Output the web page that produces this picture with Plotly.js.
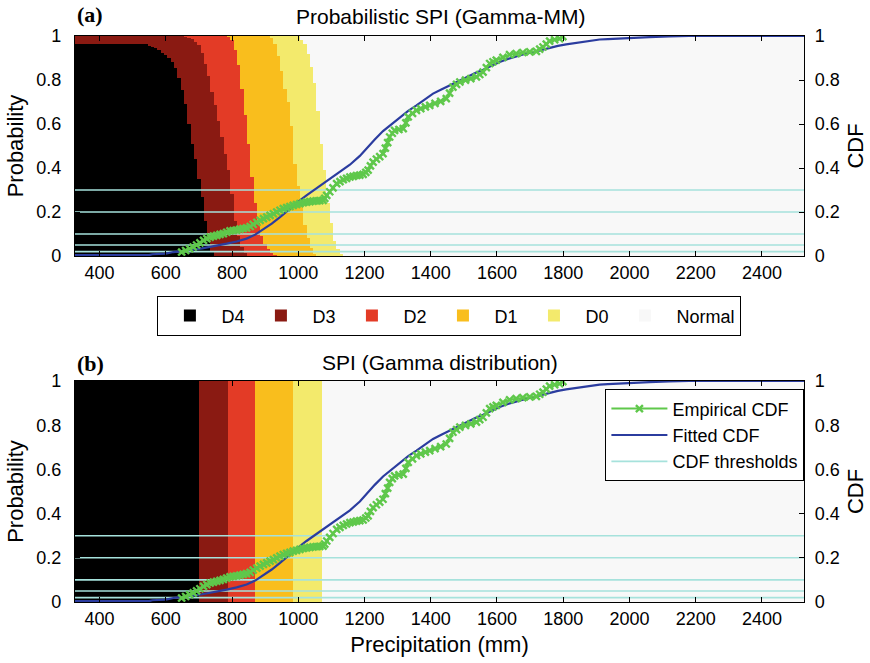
<!DOCTYPE html>
<html>
<head>
<meta charset="utf-8">
<script src="https://cdn.plot.ly/plotly-3.0.1.min.js"></script>
<style>html,body{margin:0;padding:0;background:#fff;}#chart{width:870px;height:663px;}</style>
</head>
<body>
<div id="chart"></div>
<script>
// ---------------- DATA ----------------
const precipRange = [326, 2527];
const precipTicks = [400, 600, 800, 1000, 1200, 1400, 1600, 1800, 2000, 2200, 2400];
const probTicks = [0, 0.2, 0.4, 0.6, 0.8, 1];
const probTickText = ['0', '0.2', '0.4', '0.6', '0.8', '1'];
const categories = ['D4', 'D3', 'D2', 'D1', 'D0', 'Normal'];
const cdfThresholds = [0.02, 0.05, 0.10, 0.20, 0.30];

// Panel (a): precipitation bins (mm) and cumulative class probabilities (stacked tops)
const precipBins = [330,340,350,360,370,380,390,400,410,420,430,440,450,460,470,480,490,500,510,520,
  530,540,550,560,570,580,590,600,610,620,630,640,650,660,670,680,690,700,710,720,
  730,740,750,760,770,780,790,800,810,820,830,840,850,860,870,880,890,900,910,920,
  930,940,950,960,970,980,990,1000,1010,1020,1030,1040,1050,1060,1070,1080,1090,1100,1110,1120,
  1130,1140];
const cumD4 = [0.965,0.965,0.965,0.965,0.965,0.965,0.965,0.965,0.965,0.965,0.965,0.965,0.965,0.965,0.965,0.965,0.965,0.965,0.965,0.965,
  0.965,0.965,0.955,0.95,0.945,0.935,0.925,0.915,0.9,0.88,0.855,0.81,0.755,0.69,0.6,0.51,0.44,0.35,0.27,0.16,
  0.07,0.02,0,0,0,0,0,0,0,0,0,0,0,0,0,0,0,0,0,0,
  0,0,0,0,0,0,0,0,0,0,0,0,0,0,0,0,0,0,0,0,
  0,0];
const cumD3 = [1,1,1,1,1,1,1,1,1,1,1,1,1,1,1,1,1,1,1,1,
  1,1,1,1,1,1,1,1,1,1,1,1,1,0.995,0.99,0.985,0.975,0.96,0.925,0.875,
  0.82,0.745,0.685,0.615,0.54,0.465,0.39,0.28,0.16,0.09,0.04,0.015,0,0,0,0,0,0,0,0,
  0,0,0,0,0,0,0,0,0,0,0,0,0,0,0,0,0,0,0,0,
  0,0];
const cumD2 = [1,1,1,1,1,1,1,1,1,1,1,1,1,1,1,1,1,1,1,1,
  1,1,1,1,1,1,1,1,1,1,1,1,1,1,1,1,1,1,1,1,
  1,1,1,1,1,1,0.995,0.98,0.935,0.87,0.76,0.64,0.51,0.36,0.24,0.15,0.09,0.055,0.03,0.015,
  0.005,0,0,0,0,0,0,0,0,0,0,0,0,0,0,0,0,0,0,0,
  0,0];
const cumD1 = [1,1,1,1,1,1,1,1,1,1,1,1,1,1,1,1,1,1,1,1,
  1,1,1,1,1,1,1,1,1,1,1,1,1,1,1,1,1,1,1,1,
  1,1,1,1,1,1,1,1,1,1,1,1,1,1,1,1,1,1,1,0.99,
  0.965,0.91,0.84,0.76,0.7,0.59,0.42,0.32,0.23,0.14,0.08,0.035,0.01,0,0,0,0,0,0,0,
  0,0];
const cumD0 = [1,1,1,1,1,1,1,1,1,1,1,1,1,1,1,1,1,1,1,1,
  1,1,1,1,1,1,1,1,1,1,1,1,1,1,1,1,1,1,1,1,
  1,1,1,1,1,1,1,1,1,1,1,1,1,1,1,1,1,1,1,1,
  1,1,1,1,1,1,1,1,0.98,0.965,0.92,0.86,0.785,0.66,0.51,0.39,0.24,0.15,0.07,0.03,
  0.01,0];

// Panel (b): deterministic SPI class edges (mm): D4 | D3 | D2 | D1 | D0 | Normal
const spiClassEdges = [326, 700, 787, 868, 985, 1073, 2527];

// Empirical CDF (sample points)
const empPrecip = [648,660,672,683,693,703,714,724,734,744,754,764,774,784,794,804,814,824,834,844,
  855,864,875,885,895,905,915,925,935,945,955,965,975,985,995,1005,1015,1025,1035,1045,
  1055,1065,1075,1080,1086,1095,1105,1116,1126,1136,1146,1156,1166,1176,1186,1196,1204,1211,1218,1226,
  1236,1246,1256,1263,1270,1276,1284,1291,1304,1317,1325,1332,1345,1357,1370,1384,1397,1413,1430,1447,
  1457,1467,1478,1488,1505,1521,1538,1548,1558,1568,1578,1588,1598,1618,1638,1658,1678,1699,1719,1729,
  1739,1749,1759,1774,1789,1799];
const empCdf = [0.018,0.025,0.033,0.041,0.05,0.06,0.071,0.079,0.086,0.09,0.094,0.098,0.102,0.108,0.114,0.116,0.118,0.122,0.125,0.128,
  0.134,0.144,0.153,0.162,0.17,0.177,0.185,0.192,0.2,0.208,0.215,0.22,0.225,0.23,0.234,0.238,0.242,0.245,0.247,0.249,
  0.251,0.252,0.253,0.262,0.276,0.292,0.31,0.329,0.338,0.347,0.353,0.359,0.362,0.366,0.368,0.371,0.38,0.39,0.41,0.427,
  0.44,0.452,0.465,0.49,0.515,0.541,0.558,0.571,0.575,0.579,0.605,0.632,0.648,0.662,0.67,0.678,0.685,0.694,0.703,0.715,
  0.74,0.768,0.78,0.791,0.799,0.806,0.814,0.825,0.836,0.856,0.875,0.883,0.89,0.903,0.915,0.92,0.925,0.928,0.93,0.94,
  0.95,0.963,0.977,0.983,0.988,0.997];

// Fitted (gamma) CDF
const fitPrecip = [326,400,550,560,600,623,650,683,710,734,760,784,814,844,870,894,920,945,965,985,
  1005,1025,1050,1075,1100,1126,1156,1186,1206,1231,1256,1282,1307,1332,1357,1382,1407,1432,1457,1482,
  1508,1533,1558,1583,1608,1633,1658,1684,1709,1734,1759,1784,1809,1834,1859,1885,1910,1935,1960,1985,
  2010,2060,2120,2180,2527];
const fitCdf = [0.004,0.004,0.004,0.008,0.011,0.018,0.022,0.029,0.035,0.041,0.048,0.056,0.066,0.079,0.097,0.12,0.147,0.177,0.203,0.23,
  0.253,0.276,0.302,0.329,0.356,0.382,0.415,0.455,0.49,0.53,0.568,0.6,0.632,0.66,0.685,0.712,0.738,0.757,0.776,0.796,
  0.814,0.831,0.847,0.865,0.882,0.896,0.908,0.918,0.927,0.937,0.947,0.955,0.962,0.968,0.973,0.979,0.984,0.986,0.988,0.991,
  0.993,0.995,0.998,1.0,1.0];

// ---------------- STYLE ----------------
const catColors = {D4:'#000000', D3:'#8a1a12', D2:'#e33b26', D1:'#f9be1d', D0:'#f3ea6c', Normal:'#f1f1f1'};
const bgNormal = '#f8f8f8';
const green = '#5fc84b', blue = '#2b3c9f', cyan = '#a6e2dc';
const FONT = 'Liberation Sans, Arial, Helvetica, sans-serif';

const traces = [];
const binW = precipBins[1] - precipBins[0];
const cumByCat = {D4:cumD4, D3:cumD3, D2:cumD2, D1:cumD1, D0:cumD0};

// Panel (a) Normal (full probability) then classes drawn on top in overlay
traces.push({type:'bar', name:'Normal', x:[(precipRange[0]+precipRange[1])/2], y:[1],
  width:[precipRange[1]-precipRange[0]], xaxis:'x', yaxis:'y',
  marker:{color:bgNormal, line:{width:0}}, legend:'legend', legendrank:6, showlegend:false, hoverinfo:'skip'});
['D0','D1','D2','D3','D4'].forEach((c) => {
  traces.push({type:'bar', name:c, x:precipBins, y:cumByCat[c], width:precipBins.map(() => binW),
    xaxis:'x', yaxis:'y', marker:{color:catColors[c], line:{width:0}},
    legend:'legend', legendrank:categories.indexOf(c) + 1, showlegend:true, hoverinfo:'skip'});
});

// Panel (b) classes (Normal class provides the legend swatch)
categories.forEach((c, k) => {
  const a = spiClassEdges[k], b = spiClassEdges[k + 1];
  traces.push({type:'bar', name:c, x:[(a + b) / 2], y:[1], width:[b - a],
    xaxis:'x2', yaxis:'y3', marker:{color:c === 'Normal' ? bgNormal : catColors[c], line:{width:0}},
    showlegend:c === 'Normal', legend:'legend', legendrank:6, hoverinfo:'skip'});
});

// Threshold lines and CDFs for both panels
function thresholdXY() {
  const xs = [], ys = [];
  cdfThresholds.forEach(t => { xs.push(precipRange[0], precipRange[1], null); ys.push(t, t, null); });
  return {xs, ys};
}
[['x','y2', false], ['x2','y4', true]].forEach(([xa, ya, leg]) => {
  const th = thresholdXY();
  traces.push({type:'scatter', mode:'lines', name:'CDF thresholds', x:th.xs, y:th.ys, xaxis:xa, yaxis:ya,
    line:{color:cyan, width:1.6}, showlegend:leg, legend:'legend2', legendrank:3, hoverinfo:'skip'});
  traces.push({type:'scatter', mode:'lines', name:'Fitted CDF', x:fitPrecip, y:fitCdf, xaxis:xa, yaxis:ya,
    line:{color:blue, width:2.2}, showlegend:leg, legend:'legend2', legendrank:2, hoverinfo:'skip'});
  traces.push({type:'scatter', mode:'lines+markers', name:'Empirical CDF', x:empPrecip, y:empCdf, xaxis:xa, yaxis:ya,
    line:{color:green, width:2}, marker:{symbol:'x-thin', size:7, color:green, line:{color:green, width:2.4}},
    showlegend:leg, legend:'legend2', legendrank:1, hoverinfo:'skip'});
});

// ---------------- LAYOUT ----------------
const plotTop = 36, plotBot = 602, H = 663;
const span = plotBot - plotTop;
const fy = (px) => (plotBot - px) / span;

const xCommon = {range:precipRange, tickvals:precipTicks, ticktext:precipTicks.map(String),
  ticks:'inside', ticklen:5, tickwidth:1, tickcolor:'#000', showline:true, linecolor:'#000', linewidth:1.2,
  mirror:'ticks', showgrid:false, zeroline:false, tickfont:{size:18, family:FONT}, ticklabelstandoff:0};
const yLeft = {range:[0,1], tickvals:probTicks, ticktext:probTickText, ticks:'inside', ticklen:5,
  tickcolor:'#000', showline:true, linecolor:'#000', linewidth:1.2, mirror:true, showgrid:false, zeroline:false,
  tickfont:{size:18, family:FONT}, ticklabelstandoff:9,
  title:{text:'Probability', font:{size:22, family:FONT}, standoff:6}};
const yRight = {range:[0,1], tickvals:probTicks, ticktext:probTickText, ticks:'inside', ticklen:5,
  tickcolor:'#000', side:'right', showline:true, linecolor:'#000', linewidth:1.2, showgrid:false, zeroline:false,
  tickfont:{size:18, family:FONT}, ticklabelstandoff:6,
  title:{text:'CDF', font:{size:22, family:FONT}, standoff:8}};

const layout = {
  width:870, height:663,
  margin:{l:75, r:66, t:plotTop, b:H - plotBot, pad:0},
  paper_bgcolor:'#ffffff', plot_bgcolor:bgNormal,
  font:{family:FONT, size:18, color:'#000'},
  barmode:'overlay', bargap:0,
  hovermode:false,
  xaxis: Object.assign({}, xCommon, {anchor:'y', domain:[0,1]}),
  yaxis: Object.assign({}, yLeft, {anchor:'x', domain:[fy(256), 1]}),
  yaxis2: Object.assign({}, yRight, {anchor:'x', overlaying:'y'}),
  xaxis2: Object.assign({}, xCommon, {anchor:'y3', domain:[0,1],
    title:{text:'Precipitation (mm)', font:{size:22, family:FONT}, standoff:8}}),
  yaxis3: Object.assign({}, yLeft, {anchor:'x2', domain:[0, fy(381)]}),
  yaxis4: Object.assign({}, yRight, {anchor:'x2', overlaying:'y3'}),
  legend:{orientation:'h', x:(157 - 75) / 729, xanchor:'left', y:fy(296), yanchor:'top',
    bgcolor:'#ffffff', bordercolor:'#000', borderwidth:1.4, font:{size:18, family:FONT},
    itemwidth:53, traceorder:'normal', itemclick:false},
  legend2:{x:1, xanchor:'right', y:fy(389), yanchor:'top', bgcolor:'#ffffff', bordercolor:'#000', borderwidth:1.4,
    font:{size:18, family:FONT}, itemwidth:56, traceorder:'normal', tracegroupgap:0},
  annotations:[
    {text:'Probabilistic SPI (Gamma-MM)', xref:'paper', yref:'paper', x:(440 - 75) / 729, y:fy(17),
      xanchor:'center', yanchor:'middle', showarrow:false, font:{size:21, family:FONT}},
    {text:'SPI (Gamma distribution)', xref:'paper', yref:'paper', x:(440 - 75) / 729, y:fy(362),
      xanchor:'center', yanchor:'middle', showarrow:false, font:{size:21, family:FONT}},
    {text:'<b>(a)</b>', xref:'paper', yref:'paper', x:0, y:fy(15), xanchor:'left', yanchor:'middle',
      showarrow:false, font:{size:22, family:'Liberation Serif, Times New Roman, serif'}},
    {text:'<b>(b)</b>', xref:'paper', yref:'paper', x:0, y:fy(363), xanchor:'left', yanchor:'middle',
      showarrow:false, font:{size:22, family:'Liberation Serif, Times New Roman, serif'}}
  ]
};

Plotly.newPlot('chart', traces, layout, {staticPlot:true, displayModeBar:false});
</script>
</body>
</html>
